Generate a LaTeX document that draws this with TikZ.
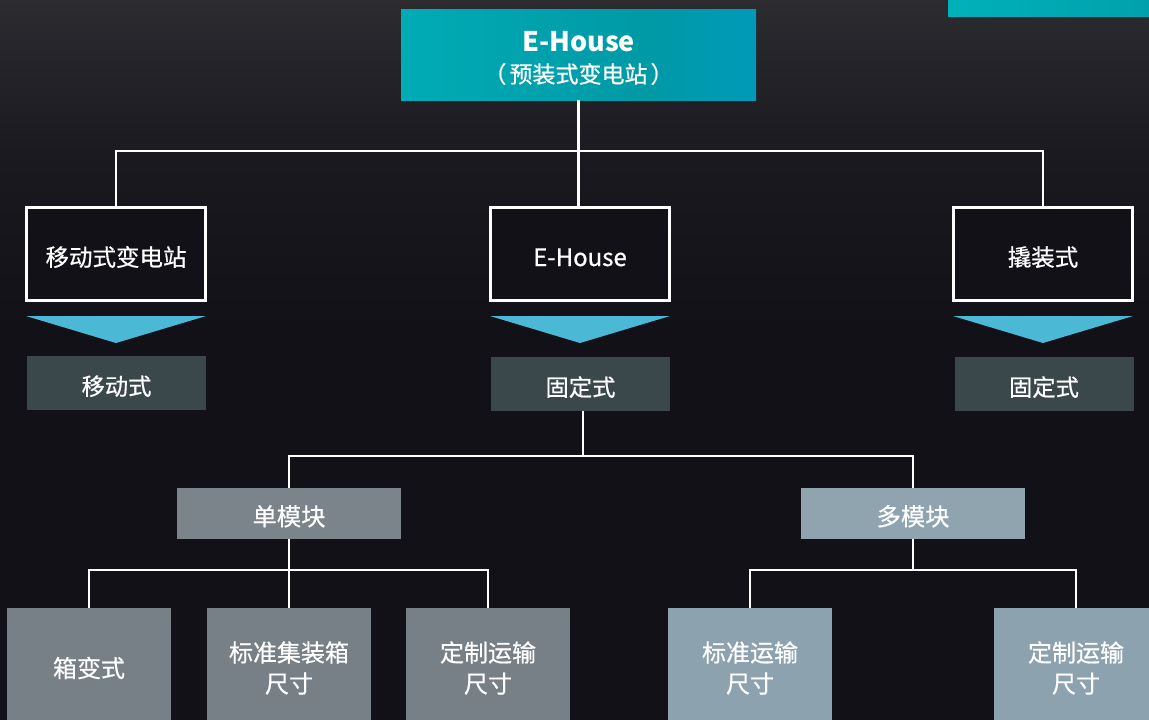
\documentclass[tikz,border=0pt]{standalone}
\usepackage{fontspec}
\setmainfont{Noto Sans CJK SC}
\newfontfamily\medfont[FakeBold=0.6]{Noto Sans CJK SC}
\usetikzlibrary{calc}
\definecolor{bgtop}{HTML}{2B2B30}
\definecolor{bgbot}{HTML}{111117}
\definecolor{tri}{HTML}{4BB8D6}
\definecolor{lvthree}{HTML}{3A484C}
\definecolor{single}{HTML}{7A848A}
\definecolor{multi}{HTML}{8FA4AF}
\definecolor{bl}{HTML}{788087}
\definecolor{br}{HTML}{8CA2AE}
\definecolor{ca}{HTML}{55C0C8}
\definecolor{cb}{HTML}{00B1BA}
\definecolor{cc}{HTML}{0099A6}
\definecolor{cd}{HTML}{009DD8}
\pgfdeclarehorizontalshading{ehouse}{100bp}{color(0bp)=(ca); color(15bp)=(cb); color(60bp)=(cc); color(100bp)=(cd)}
\pgfdeclarehorizontalshading{strip}{100bp}{color(0bp)=(ca); color(25bp)=(cb); color(100bp)=(cc)}
\tikzset{
  conn/.style={draw=white, line width=2.5pt},
  lower/.style={text height=24pt, text depth=0pt},
  outlinebox/.style={draw=white, line width=3pt, fill=bgbot, minimum width=179pt, minimum height=93pt, text=white, font=\medfont\fontsize{23.5}{27}\selectfont, inner sep=0pt, lower},
  lvbox/.style={fill=lvthree, minimum width=179pt, minimum height=54pt, text=white, font=\medfont\fontsize{23.3}{26}\selectfont, inner sep=0pt, lower},
  midbox/.style={minimum width=224pt, minimum height=51pt, text=white, font=\medfont\fontsize{24.3}{27}\selectfont, inner sep=0pt, lower},
  botbox/.style={minimum width=164pt, minimum height=120pt, text=white, font=\medfont\fontsize{24}{31}\selectfont, inner sep=0pt, align=center},
  trishape/.style={fill=tri}
}
\begin{document}
\begin{tikzpicture}[x=1pt,y=-1pt]
\useasboundingbox (0,0) rectangle (1149,720);
\begin{scope}
\clip (0,0) rectangle (1149,720);
\shade[top color=bgtop, bottom color=bgbot, middle color=bgbot!70!bgtop] (0,0) rectangle (1149,330);
\fill[bgbot] (0,329) rectangle (1149,720);
\shade[shading=strip] (948,0) rectangle (1149,16);

% top
\node[shading=ehouse, minimum width=355pt, minimum height=91pt, inner sep=0pt] (top) at (578.5,54.5) {};
\node[text=white, font=\bfseries\fontsize{27}{30}\selectfont] (toptitle) at (578.5,42) {E-House};
\node[text=white, font=\medfont\fontsize{23}{26}\selectfont] (topsub) at (578.5,74) {（\kern3pt 预装式变电站\kern3pt ）};

% level 2
\node[outlinebox] (l2a) at (116,254) {移动式变电站};
\node[outlinebox, font=\medfont\fontsize{24}{27}\selectfont] (l2b) at (580,254) {E-House};
\node[outlinebox] (l2c) at (1043,254) {撬装式};

\draw[conn] (top.south) -- ++(0,51) coordinate (j1) -| (l2a.north);
\draw[conn] (j1) -| (l2c.north);
\draw[conn] (top.south) -- (top.south |- l2b.north);

% triangles
\fill[trishape] (26,316) -- (206,316) -- (116,343) -- cycle;
\fill[trishape] (490,316) -- (670,316) -- (580,343) -- cycle;
\fill[trishape] (953,316) -- (1133,316) -- (1043,343) -- cycle;

% level 3
\node[lvbox] (l3a) at (116.5,383) {移动式};
\node[lvbox] (l3b) at (580.5,384) {固定式};
\node[lvbox] (l3c) at (1044,384) {固定式};

% single / multi
\node[midbox, fill=single] (sgl) at (289,513.5) {单模块};
\node[midbox, fill=multi] (mlt) at (913,513.5) {多模块};
\draw[conn] ($(l3b.south)+(2.5,0)$) -- ++(0,45) coordinate (j2) -| (sgl.north);
\draw[conn] (j2) -| (mlt.north);

% bottom
\node[botbox, fill=bl] (b1) at (89,668) {箱变式};
\node[botbox, fill=bl] (b2) at (289,668) {标准集装箱\\尺寸};
\node[botbox, fill=bl] (b3) at (488,668) {定制运输\\尺寸};
\node[botbox, fill=br] (b4) at (750,668) {标准运输\\尺寸};
\node[botbox, fill=br] (b5) at (1076,668) {定制运输\\尺寸};

\draw[conn] (sgl.south) -- ++(0,31) coordinate (j3) -| (b1.north);
\draw[conn] (j3) -| (b3.north);
\draw[conn] (j3) -- (b2.north);
\draw[conn] (mlt.south) -- ++(0,31) coordinate (j4) -| (b4.north);
\draw[conn] (j4) -| (b5.north);
\end{scope}
\end{tikzpicture}
\end{document}
